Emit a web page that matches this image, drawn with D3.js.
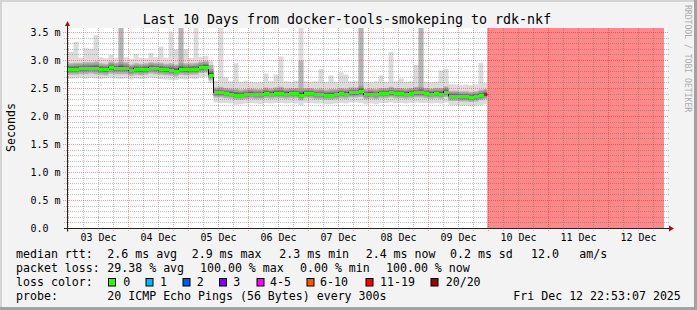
<!DOCTYPE html>
<html><head><meta charset="utf-8">
<script src="https://cdn.jsdelivr.net/npm/d3@7"></script>
<style>html,body{margin:0;padding:0;background:#f3f3f3}svg{display:block}</style>
</head><body>
<svg id="c" width="697" height="310"></svg>
<script>
// ---------------- DATA ----------------
const title = "Last 10 Days from docker-tools-smokeping to rdk-nkf";
const yAxisTitle = "Seconds";
const watermark = "RRDTOOL / TOBI OETIKER";
const yTickValues = [0, 0.5, 1.0, 1.5, 2.0, 2.5, 3.0, 3.5];
const yTickLabels = ["0.0", "0.5 m", "1.0 m", "1.5 m", "2.0 m", "2.5 m", "3.0 m", "3.5 m"];
const dayLabels = ["03 Dec","04 Dec","05 Dec","06 Dec","07 Dec","08 Dec","09 Dec","10 Dec","11 Dec","12 Dec"];
const viewStart = Date.UTC(2025, 11, 2, 23, 24);
const viewEnd   = Date.UTC(2025, 11, 12, 23, 24);
const stepStart = Date.UTC(2025, 11, 2, 22, 0);   // first 2-hour sample
const stepHours = 2;
const lossStart = Date.UTC(2025, 11, 9, 23, 30);   // 100% loss from here
const lossEnd   = Date.UTC(2025, 11, 12, 22, 12);

// median RTT per 2h step (ms)
const median = [
 2.85,2.85,2.85,2.86,2.86,2.87,2.87,2.85,2.84,2.88,2.86,2.87,2.86,2.83,2.85,2.84,2.85,2.87,2.86,2.85,
 2.84,2.83,2.82,2.85,2.84,2.85,2.85,2.88,2.89,2.75,2.43,2.43,2.42,2.41,2.39,2.39,2.40,2.41,2.40,2.40,
 2.42,2.41,2.42,2.42,2.41,2.42,2.42,2.39,2.42,2.42,2.40,2.40,2.39,2.39,2.40,2.42,2.41,2.43,2.43,2.45,
 2.40,2.41,2.40,2.42,2.42,2.43,2.42,2.42,2.41,2.42,2.43,2.43,2.42,2.41,2.42,2.41,2.44,2.37,2.37,2.36,
 2.36,2.35,2.36,2.38,2.40];
// fastest ping per step
const pingMin = [
 2.69,2.68,2.68,2.69,2.68,2.69,2.68,2.67,2.68,2.69,2.68,2.67,2.68,2.66,2.68,2.67,2.68,2.69,2.68,2.67,
 2.66,2.65,2.65,2.67,2.66,2.68,2.67,2.70,2.71,2.60,2.25,2.24,2.24,2.23,2.21,2.22,2.23,2.24,2.23,2.22,
 2.24,2.23,2.24,2.24,2.23,2.24,2.23,2.20,2.24,2.24,2.23,2.23,2.22,2.22,2.23,2.24,2.23,2.25,2.25,2.24,
 2.22,2.23,2.22,2.24,2.24,2.25,2.24,2.24,2.23,2.24,2.25,2.24,2.24,2.23,2.24,2.23,2.25,2.20,2.20,2.19,
 2.19,2.18,2.19,2.20,2.22];
// lower quartile ping per step
const lowerQ = [
 2.77,2.76,2.76,2.77,2.77,2.78,2.77,2.76,2.75,2.78,2.77,2.77,2.77,2.74,2.76,2.75,2.76,2.78,2.77,2.76,
 2.75,2.74,2.73,2.76,2.75,2.76,2.76,2.79,2.80,2.66,2.35,2.35,2.34,2.33,2.31,2.31,2.32,2.33,2.32,2.32,
 2.34,2.33,2.34,2.34,2.33,2.34,2.34,2.30,2.34,2.34,2.32,2.32,2.31,2.31,2.32,2.34,2.33,2.35,2.35,2.36,
 2.32,2.33,2.32,2.34,2.34,2.35,2.34,2.34,2.33,2.34,2.35,2.35,2.34,2.33,2.34,2.33,2.36,2.29,2.29,2.28,
 2.28,2.27,2.28,2.30,2.32];
// upper quartile ping per step
const upperQ = [
 2.95,2.95,2.96,2.96,2.97,2.97,2.98,2.95,2.94,2.98,2.96,3.70,2.97,2.93,2.95,2.94,2.95,2.97,2.96,2.96,
 2.94,2.95,2.93,3.70,2.95,2.95,2.96,2.98,2.99,2.92,2.52,2.53,2.51,2.50,2.50,2.48,2.49,2.50,2.49,2.49,
 2.52,2.50,2.52,2.53,2.50,2.51,2.51,3.00,2.51,2.51,2.49,2.50,2.48,2.49,2.49,2.51,2.50,2.52,2.52,3.70,
 2.49,2.50,2.49,2.51,2.51,2.53,2.51,2.51,2.50,2.51,2.53,3.70,2.51,2.50,2.51,2.51,2.54,2.46,2.46,2.45,
 2.45,2.44,2.45,2.48,2.49];
// slowest ping per step
const pingMax = [
 3.04,3.15,3.33,3.05,3.22,3.21,3.45,3.06,3.04,3.10,3.05,3.70,3.06,3.03,3.12,3.05,3.04,3.14,3.06,3.25,
 3.05,3.52,3.20,3.70,3.20,3.05,3.70,3.06,3.08,3.00,2.64,3.70,2.70,2.63,2.95,2.62,2.64,2.62,2.61,2.62,
 2.77,2.63,2.75,3.07,2.63,2.62,2.64,3.70,2.63,2.62,2.63,2.85,2.62,2.73,2.62,2.79,2.75,2.63,2.64,3.70,
 2.62,2.61,2.63,2.73,2.62,3.15,2.63,2.68,2.62,2.63,2.92,3.70,2.62,2.61,2.62,2.82,2.85,2.58,2.57,2.56,
 2.57,2.56,2.57,2.96,2.60];
// lost pings (of 20) per step
const lostPings = [
 0,0,0,0,0,0,0,0,0,0,0,0,0,0,0,0,0,0,0,0,
 0,0,0,0,0,0,0,0,0,0,0,0,0,0,0,0,0,0,0,0,
 0,0,0,0,0,0,0,0,0,0,0,0,0,0,0,0,0,0,0,0,
 0,0,0,0,0,0,0,0,0,0,0,0,0,0,0,0,0,0,0,0,
 0,0,0,0,15];

const lossBins   = [0, 1, 2, 3, 5, 10, 19, 20];
const lossLabels = ["0","1","2","3","4-5","6-10","11-19","20/20"];
const lossColors = ["#26ff00","#00b8ff","#0059ff","#7e00ff","#ff00ff","#ff5500","#ff0000","#a10000"];

const rttHead = "median rtt:";
const rttStats = ["2.6 ms avg","2.9 ms max","2.3 ms min","2.4 ms now","0.2 ms sd","12.0","am/s"];
const lossHead = "packet loss:";
const lossStats = ["29.38 % avg","100.00 % max","0.00 % min","100.00 % now"];
const colorHead = "loss color:";
const probeHead = "probe:";
const probeText = "20 ICMP Echo Pings (56 Bytes) every 300s";
const stampText = "Fri Dec 12 22:53:07 2025";

// ---------------- LAYOUT ----------------
const W = 697, H = 310;
const L = 67, R = 667, T = 28, B = 228.5;
const mono = "'DejaVu Sans Mono', monospace";
const svg = d3.select("#c");

const x = d3.scaleUtc().domain([viewStart, viewEnd]).range([L, R]);
const y = d3.scaleLinear().domain([0, 200 / 56]).range([B, B - 200]);
const px = v => Math.round(v - 0.5) + 0.5;

svg.append("rect").attr("width", W).attr("height", H).attr("fill", "#f3f3f3");
svg.append("rect").attr("x",0).attr("y",0).attr("width",W).attr("height",2).attr("fill","#d4d4d4");
svg.append("rect").attr("x",0).attr("y",0).attr("width",2).attr("height",H).attr("fill","#d4d4d4");
svg.append("rect").attr("x",W-3).attr("y",0).attr("width",3).attr("height",H).attr("fill","#a2a2a2");
svg.append("rect").attr("x",0).attr("y",H-3).attr("width",W).attr("height",3).attr("fill","#a2a2a2");

svg.append("rect").attr("x", L).attr("y", T).attr("width", R - L).attr("height", B - T).attr("fill", "#fff");

svg.append("defs").append("clipPath").attr("id", "dataClip")
  .append("rect").attr("x", L).attr("y", T).attr("width", x(lossStart) - L).attr("height", B - T);

const stepMs = stepHours * 3600e3;
const times = median.map((_, i) => new Date(stepStart + i * stepMs));
const endTime = new Date(stepStart + median.length * stepMs);

function band(lo, hi) {
  const pts = times.map((t, i) => ({ t, lo: lo[i], hi: hi[i] }));
  pts.push({ t: endTime, lo: lo[lo.length - 1], hi: hi[hi.length - 1] });
  return d3.area().curve(d3.curveStepAfter)
    .x(d => x(d.t)).y0(d => y(d.lo)).y1(d => y(d.hi))(pts);
}
// inner smoke shades are drawn within the typical spread around the median
const mix = (a, f, cap) => a.map((v, i) => {
  const d = (v - median[i]) * f;
  return median[i] + Math.sign(d) * Math.min(Math.abs(d), cap);
});

const gData = svg.append("g").attr("clip-path", "url(#dataClip)");
gData.append("path").attr("d", band(pingMin, pingMax)).attr("fill", "#dcdcdc");
gData.append("path").attr("d", band(mix(lowerQ, 1.15, 1), upperQ)).attr("fill", "#b4b4b4");
gData.append("path").attr("d", band(mix(lowerQ, 0.8, 0.09), mix(upperQ, 0.75, 0.1))).attr("fill", "#9c9c9c");
gData.append("path").attr("d", band(mix(lowerQ, 0.5, 0.06), mix(upperQ, 0.45, 0.06))).attr("fill", "#7a7a7a");
gData.append("path").attr("d", band(mix(lowerQ, 0.25, 0.03), mix(upperQ, 0.2, 0.03))).attr("fill", "#565656");

// 100% loss area
svg.append("rect").attr("x", x(lossStart)).attr("y", T)
  .attr("width", x(lossEnd) - x(lossStart)).attr("height", B - 0.5 - T).attr("fill", "#ff8888");

// grid
const gGrid = svg.append("g").attr("fill", "none").attr("shape-rendering", "crispEdges");
const minorY = d3.range(1, 36).filter(k => k % 5 !== 0).map(k => k / 10);
const majorY = yTickValues.filter(v => v > 0);
const minorX = d3.utcHour.every(6).range(new Date(viewStart), new Date(viewEnd)).filter(d => d.getUTCHours() !== 0);
const majorX = d3.utcDay.range(new Date(viewStart), new Date(viewEnd));
const minorCol = "rgba(90,90,90,0.36)", majorCol = "rgba(235,0,0,0.36)";
gGrid.selectAll("line.mh").data(minorY).join("line").attr("class", "mh")
  .attr("x1", L - 3).attr("x2", R + 2).attr("y1", d => px(y(d))).attr("y2", d => px(y(d)))
  .attr("stroke", minorCol).attr("stroke-width", 1).attr("stroke-dasharray", "1 1");
gGrid.selectAll("line.mv").data(minorX).join("line").attr("class", "mv")
  .attr("x1", d => px(x(d))).attr("x2", d => px(x(d)))
  .attr("y1", T).attr("y2", B + 2)
  .attr("stroke", minorCol).attr("stroke-width", 1).attr("stroke-dasharray", "1 1");
gGrid.selectAll("line.Mh").data(majorY).join("line").attr("class", "Mh")
  .attr("x1", L - 4).attr("x2", R + 2).attr("y1", d => px(y(d))).attr("y2", d => px(y(d)))
  .attr("stroke", majorCol).attr("stroke-width", 1).attr("stroke-dasharray", "1 1");
gGrid.selectAll("line.Mv").data(majorX).join("line").attr("class", "Mv")
  .attr("x1", d => px(x(d))).attr("x2", d => px(x(d)))
  .attr("y1", T).attr("y2", B + 3)
  .attr("stroke", majorCol).attr("stroke-width", 1).attr("stroke-dasharray", "1 1");

// median line + loss-colour band
const lossColor = n => lossColors[lossBins.findIndex(b => n <= b)];
const medPts = times.map((t, i) => ({ t, v: median[i] }));
medPts.push({ t: endTime, v: median[median.length - 1] });
const gMed = svg.append("g").attr("clip-path", "url(#dataClip)");
gMed.append("path").attr("fill", "none").attr("stroke", "#000").attr("stroke-width", 1)
  .attr("d", d3.line().curve(d3.curveStepAfter).x(d => x(d.t)).y(d => px(y(d.v)))(medPts));
gMed.selectAll("rect.med").data(times).join("rect").attr("class", "med")
  .attr("x", d => x(d)).attr("width", (d, i) => x(new Date(+d + stepMs)) - x(d))
  .attr("y", (d, i) => Math.round(y(median[i])) - 1.5).attr("height", 3)
  .attr("shape-rendering", "crispEdges")
  .attr("fill", (d, i) => lossColor(lostPings[i]));

// axes
const axisCol = "#222", arrowCol = "#951515";
svg.append("line").attr("x1", L - 3).attr("x2", R + 3).attr("y1", B).attr("y2", B).attr("stroke", axisCol);
svg.append("line").attr("x1", L + 0.5).attr("x2", L + 0.5).attr("y1", B + 3).attr("y2", T - 2).attr("stroke", axisCol);
svg.append("path").attr("d", `M${R + 2},${B - 3}L${R + 7},${B}L${R + 2},${B + 3}Z`).attr("fill", arrowCol);
svg.append("path").attr("d", `M${L - 2},${T - 2}L${L + 0.5},${T - 7}L${L + 3},${T - 2}Z`).attr("fill", arrowCol);

// tick labels
svg.selectAll("text.yl").data(yTickValues).join("text").attr("class", "yl")
  .attr("x", 30.5).attr("y", d => y(d) + 3.6)
  .attr("font-family", mono).attr("font-size", 10).attr("fill", "#000")
  .text((d, i) => yTickLabels[i]);
svg.selectAll("text.xl").data(dayLabels).join("text").attr("class", "xl")
  .attr("x", (d, i) => x(new Date(Date.UTC(2025, 11, 3 + i, 12))))
  .attr("y", 241).attr("text-anchor", "middle")
  .attr("font-family", mono).attr("font-size", 10).attr("fill", "#000")
  .text(d => d);

// title & axis title
svg.append("text").attr("x", 347).attr("y", 23.5).attr("text-anchor", "middle")
  .attr("font-family", mono).attr("font-size", 13.3).attr("fill", "#000").text(title);
svg.append("text").attr("transform", "translate(14.5,127.5) rotate(-90)").attr("text-anchor", "middle")
  .attr("font-family", mono).attr("font-size", 11.6).attr("fill", "#000").text(yAxisTitle);
svg.append("text").attr("transform", "translate(685,5) rotate(90)")
  .attr("font-family", mono).attr("font-size", 8.1).attr("fill", "#ababab").text(watermark);

// legend
const LF = 11.6;
const leg = (txt, lx, ly) => svg.append("text").attr("x", lx).attr("y", ly)
  .attr("font-family", mono).attr("font-size", LF).attr("fill", "#000")
  .attr("xml:space", "preserve").text(txt);
const rows = [257.7, 271.7, 285.7, 299.7];
leg(rttHead, 16, rows[0]);
[107.3, 191.7, 279.3, 365.7, 450, 531, 579.3].forEach((lx, i) => leg(rttStats[i], lx, rows[0]));
leg(lossHead, 16, rows[1]);
[107.3, 200, 300, 386].forEach((lx, i) => leg(lossStats[i], lx, rows[1]));
leg(colorHead, 16, rows[2]);
const boxX = [108.5, 146, 183, 219.5, 257, 307, 366, 431];
const labX = [123.3, 160, 196.7, 233.3, 270, 320, 380, 445.7];
lossLabels.forEach((lab, i) => {
  svg.append("rect").attr("x", boxX[i]).attr("y", 278.5).attr("width", 7).attr("height", 7.5)
    .attr("fill", lossColors[i]).attr("stroke", "#000").attr("stroke-width", 1);
  leg(lab, labX[i], rows[2]);
});
leg(probeHead, 16, rows[3]);
leg(probeText, 107.3, rows[3]);
leg(stampText, 513.3, rows[3]);
</script>
</body></html>
